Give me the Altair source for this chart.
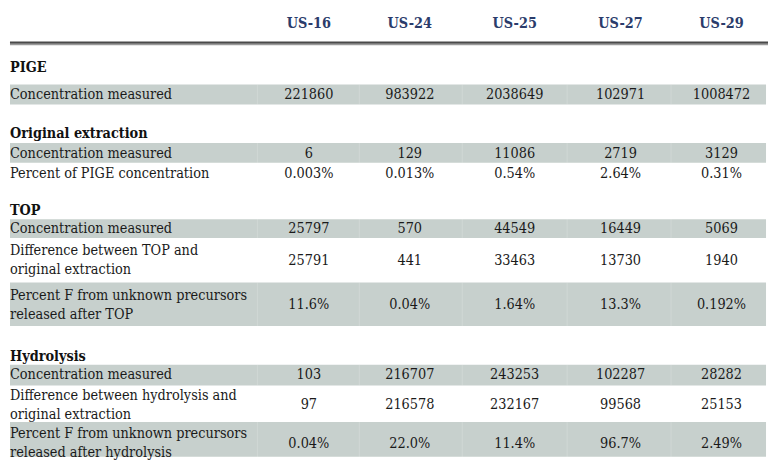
import altair as alt
import pandas as pd

# ---------------- data ----------------
samples = ["US-16", "US-24", "US-25", "US-27", "US-29"]
sections = ["PIGE", "Original extraction", "TOP", "Hydrolysis"]

pige_conc = ["221860", "983922", "2038649", "102971", "1008472"]
orig_conc = ["6", "129", "11086", "2719", "3129"]
orig_pct = ["0.003%", "0.013%", "0.54%", "2.64%", "0.31%"]
top_conc = ["25797", "570", "44549", "16449", "5069"]
top_diff = ["25791", "441", "33463", "13730", "1940"]
top_pct = ["11.6%", "0.04%", "1.64%", "13.3%", "0.192%"]
hyd_conc = ["103", "216707", "243253", "102287", "28282"]
hyd_diff = ["97", "216578", "232167", "99568", "25153"]
hyd_pct = ["0.04%", "22.0%", "11.4%", "96.7%", "2.49%"]

lbl_conc = ["Concentration measured"]
lbl_pct_pige = ["Percent of PIGE concentration"]
lbl_diff_top = ["Difference between TOP and", "original extraction"]
lbl_pct_top = ["Percent F from unknown precursors", "released after TOP"]
lbl_diff_hyd = ["Difference between hydrolysis and", "original extraction"]
lbl_pct_hyd = ["Percent F from unknown precursors", "released after hydrolysis"]

# ---------------- layout (reference pixel units) ----------------
W, H = 768, 455
X0, Y0 = 8, 8
COL_X = [310, 412, 518, 625, 727]
SEP_X = [258, 361, 465, 571, 676]
LABEL_X = 8
HEADER_Y = 22
RULE_Y = 41.5
SECTION_Y = [66, 133, 211, 358]
LINE_GAP = 19

rows = [
    (lbl_conc, pige_conc, True, 83, 103, 94),
    (lbl_conc, orig_conc, True, 142, 162, 153),
    (lbl_pct_pige, orig_pct, False, 162, 182, 173),
    (lbl_conc, top_conc, True, 219, 238, 229),
    (lbl_diff_top, top_diff, False, 238, 283, 261),
    (lbl_pct_top, top_pct, True, 283, 327, 306),
    (lbl_conc, hyd_conc, True, 366, 387, 377),
    (lbl_diff_hyd, hyd_diff, False, 387, 424, 407),
    (lbl_pct_hyd, hyd_pct, True, 424, 466, 446),
]

bands, seps, labels, values = [], [], [], []
for lines, vals, shaded, top, bot, mid in rows:
    if shaded:
        bands.append({"y": top, "y2": bot})
        for sx in SEP_X:
            seps.append({"x": sx, "y": top, "y2": bot})
    n = len(lines)
    for i, ln in enumerate(lines):
        labels.append({"x": LABEL_X, "y": mid + (i - (n - 1) / 2) * LINE_GAP, "t": ln})
    for cx, v in zip(COL_X, vals):
        values.append({"x": cx, "y": mid, "t": v})

header = pd.DataFrame({"x": COL_X, "y": [HEADER_Y] * 5, "t": samples})
secdf = pd.DataFrame({"x": [LABEL_X] * 4, "y": SECTION_Y, "t": sections})

xs = alt.Scale(domain=[X0, X0 + W], range=[0, W])
ys = alt.Scale(domain=[Y0, Y0 + H], range=[0, H])
X = alt.X("x:Q", scale=xs, axis=None)
Y = alt.Y("y:Q", scale=ys, axis=None)
Y2 = alt.Y2("y2:Q")

FONT = "DejaVu Serif Condensed"
FS = 14.5

band_layer = alt.Chart(pd.DataFrame(bands)).mark_rect(color="#c7d0cd", clip=True).encode(
    x=alt.value(0), x2=alt.value(W), y=Y, y2=Y2)
sep_layer = alt.Chart(pd.DataFrame(seps)).mark_rule(color="#ffffff", opacity=0.18, strokeWidth=1).encode(
    x=X, y=Y, y2=Y2)
rule_df = pd.DataFrame({"y": [RULE_Y - 0.9, RULE_Y + 1.2], "c": ["a", "b"]})
rule_layer = alt.Chart(rule_df).mark_rule().encode(
    x=alt.value(0), x2=alt.value(W), y=Y,
    color=alt.Color("c:N", scale=alt.Scale(domain=["a", "b"], range=["#4a4a4a", "#9a9a9a"]), legend=None),
    strokeWidth=alt.StrokeWidth("c:N", scale=alt.Scale(domain=["a", "b"], range=[2.2, 1.3]), legend=None))

header_layer = alt.Chart(header).mark_text(font=FONT, fontSize=FS, fontWeight="bold",
                                           color="#2b3c6b", align="center", baseline="middle").encode(
    x=X, y=Y, text="t:N")
sec_layer = alt.Chart(secdf).mark_text(font=FONT, fontSize=FS, fontWeight="bold",
                                       color="#111111", align="left", baseline="middle").encode(
    x=X, y=Y, text="t:N")
label_layer = alt.Chart(pd.DataFrame(labels)).mark_text(font=FONT, fontSize=FS,
                                                        color="#1a1a1a", align="left", baseline="middle").encode(
    x=X, y=Y, text="t:N")
value_layer = alt.Chart(pd.DataFrame(values)).mark_text(font=FONT, fontSize=FS,
                                                        color="#1a1a1a", align="center", baseline="middle").encode(
    x=X, y=Y, text="t:N")

chart = alt.layer(band_layer, sep_layer, rule_layer, header_layer, sec_layer,
                  label_layer, value_layer).properties(
    width=W, height=H, padding=0,
    autosize=alt.AutoSizeParams(type="fit", contains="padding"),
).configure_view(stroke=None)

chart.save("out.html", embed_options={"renderer": "svg", "actions": False})
